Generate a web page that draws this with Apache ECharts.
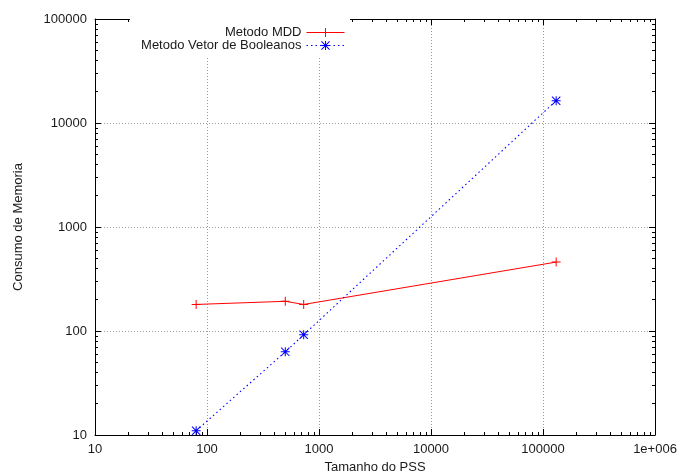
<!DOCTYPE html>
<html><head><meta charset="utf-8">
<script src="https://cdn.jsdelivr.net/npm/echarts@6/dist/echarts.min.js"></script>
<style>html,body{margin:0;padding:0;background:#fff}#c{width:680px;height:475px}</style>
</head><body><div id="c"></div>
<script>
// ---- data ----
const pssSizes = [80, 500, 730, 131072];
const mddMemory = [180, 193, 180, 460];
const boolMemory = [11, 63, 92, 16384];
const seriesNames = ['Metodo MDD', 'Metodo Vetor de Booleanos'];
const xTickLabels = ['10', '100', '1000', '10000', '100000', '1e+006'];
const yTickLabels = ['10', '100', '1000', '10000', '100000'];
const xAxisTitle = 'Tamanho do PSS';
const yAxisTitle = 'Consumo de Memoria';

// ---- style ----
const FONT = '"Liberation Sans", Arial, sans-serif';
const FS = 13;
const TXT = '#1a1a1a';
const X_MIN = 10, X_MAX = 1e6, Y_MIN = 10, Y_MAX = 1e5;

function minorTicks(lo, hi) {
  const out = [];
  for (let d = lo; d < hi; d++) for (let m = 2; m <= 9; m++) out.push(m * Math.pow(10, d));
  return out;
}
const minorX = minorTicks(1, 6);
const minorY = minorTicks(1, 5);

const plusPath = 'path://M0,8H18V10H0Z M8,0H10V18H8Z';
const starPath = 'path://M0,8H18V10H0Z M8,0H10V18H8Z M0,1.4L1.4,0L18,16.6L16.6,18Z M16.6,0L18,1.4L1.4,18L0,16.6Z';

function labelIdx(v, arr, offset) {
  return arr[Math.round(Math.log10(v)) - offset] || '';
}

function majorAxis(kind, pos, grid, withLabels) {
  const isX = kind === 'x';
  const ax = {
    type: 'log', logBase: 10, gridIndex: grid, position: pos,
    min: isX ? X_MIN : Y_MIN, max: isX ? X_MAX : Y_MAX,
    axisLine: { show: true, onZero: false, lineStyle: { color: '#000', width: 1 } },
    axisTick: { show: true, inside: true, length: 6, lineStyle: { color: '#000', width: 1 } },
    axisLabel: { show: withLabels, margin: isX ? 8 : 8, color: TXT, fontFamily: FONT, fontSize: FS,
      formatter: v => isX ? labelIdx(v, xTickLabels, 1) : labelIdx(v, yTickLabels, 1) },
    splitLine: { show: withLabels, lineStyle: { color: '#9a9a9a', type: [1, 2], width: 1 } },
    minorTick: { show: false }, minorSplitLine: { show: false }
  };
  if (withLabels) {
    ax.name = isX ? xAxisTitle : yAxisTitle;
    ax.nameLocation = 'middle';
    ax.nameGap = isX ? 24 : 70;
    ax.nameTextStyle = { color: TXT, fontFamily: FONT, fontSize: FS };
  }
  return ax;
}
function minorAxis(kind, pos, grid) {
  const isX = kind === 'x';
  return {
    type: 'log', logBase: 10, gridIndex: grid, position: pos,
    min: isX ? X_MIN : Y_MIN, max: isX ? X_MAX : Y_MAX,
    axisLine: { show: false, onZero: false },
    axisTick: { show: true, inside: true, length: 3, customValues: isX ? minorX : minorY,
      lineStyle: { color: '#000', width: 1 } },
    axisLabel: { show: false },
    splitLine: { show: false }
  };
}

const gridRect = { left: 95, right: 25, top: 19, bottom: 40, outerBoundsMode: 'none', containLabel: false };

const legendBase = {
  orient: 'vertical', align: 'right', right: 330, backgroundColor: '#fff',
  itemWidth: 38, itemHeight: 11,
  lineStyle: { width: 1 },
  textStyle: { color: TXT, fontFamily: FONT, fontSize: FS }
};

const option = {
  animation: false,
  backgroundColor: '#fff',
  grid: [Object.assign({}, gridRect), Object.assign({}, gridRect)],
  xAxis: [
    majorAxis('x', 'bottom', 0, true),
    majorAxis('x', 'top', 0, false),
    minorAxis('x', 'bottom', 1),
    minorAxis('x', 'top', 1)
  ],
  yAxis: [
    majorAxis('y', 'left', 0, true),
    majorAxis('y', 'right', 0, false),
    minorAxis('y', 'left', 1),
    minorAxis('y', 'right', 1)
  ],
  legend: [
    Object.assign({}, legendBase, { data: [seriesNames[0]], top: 19, padding: [7, 5, 0, 95] }),
    Object.assign({}, legendBase, { data: [seriesNames[1]], top: 38, padding: [1, 5, 5, 10] })
  ],
  series: [
    { name: seriesNames[0], type: 'line', xAxisIndex: 0, yAxisIndex: 0,
      data: pssSizes.map((x, i) => [x, mddMemory[i]]),
      symbol: plusPath, symbolSize: 9, showSymbol: true,
      lineStyle: { color: '#ff0000', width: 1 }, itemStyle: { color: '#ff0000' } },
    { name: seriesNames[1], type: 'line', xAxisIndex: 0, yAxisIndex: 0,
      data: pssSizes.map((x, i) => [x, boolMemory[i]]),
      symbol: starPath, symbolSize: 9, showSymbol: true,
      lineStyle: { color: '#0000ff', width: 1.1, type: [1.5, 3] }, itemStyle: { color: '#0000ff' } }
  ]
};
const chart = echarts.init(document.getElementById('c'), null, { renderer: 'canvas' });
chart.setOption(option);
</script>
</body></html>
